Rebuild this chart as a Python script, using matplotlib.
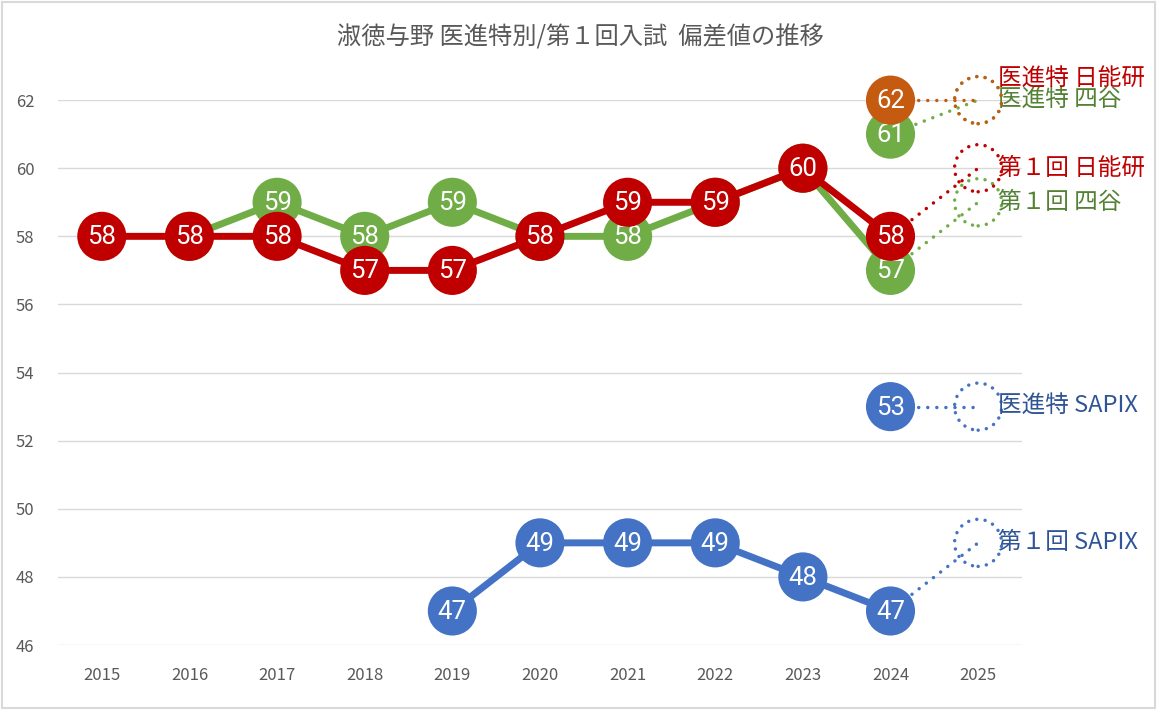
import numpy as np
import matplotlib

matplotlib.use("Agg")
import matplotlib.pyplot as plt
from matplotlib.patches import Rectangle

plt.rcParams["font.family"] = ["Noto Sans CJK JP", "DejaVu Sans"]

# data (2025 = forecast, drawn dotted)
years = [2015, 2016, 2017, 2018, 2019, 2020, 2021, 2022, 2023, 2024, 2025]
nan = np.nan
daiichi_nichinoken = [58, 58, 58, 57, 57, 58, 59, 59, 60, 58, 60]
daiichi_yotsuya = [nan, 58, 59, 58, 59, 58, 58, 59, 60, 57, 59]
daiichi_sapix = [nan, nan, nan, nan, 47, 49, 49, 49, 48, 47, 49]
ishin_nichinoken = [nan] * 9 + [62, 62]
ishin_yotsuya = [nan] * 9 + [61, 62]
ishin_sapix = [nan] * 9 + [53, 53]

title = "淑徳与野 医進特別/第１回入試  偏差値の推移"

RED = "#C00000"
GREEN = "#70AD47"
BLUE = "#4472C4"
ORANGE = "#C55A11"

# (name, values, marker colour, label colour, label offset in points)
series = [
    ("第１回 SAPIX", daiichi_sapix, BLUE, "#2F5597", 0),
    ("医進特 SAPIX", ishin_sapix, BLUE, "#2F5597", 0),
    ("第１回 四谷", daiichi_yotsuya, GREEN, "#548235", 0),
    ("第１回 日能研", daiichi_nichinoken, RED, RED, 0),
    ("医進特 四谷", ishin_yotsuya, GREEN, "#548235", 0),
    ("医進特 日能研", ishin_nichinoken, ORANGE, RED, 15),
]

fig = plt.figure(figsize=(11.6, 7.1), dpi=100)
ax = fig.add_axes([0.05, 0.0915, 0.831, 0.7675])

x = np.array(years, dtype=float)
for i, (name, vals, col, tcol, dy) in enumerate(series):
    z = 3 + i
    v = np.array(vals, dtype=float)
    xs, vs = x[:-1], v[:-1]
    ax.plot(xs, vs, color=col, lw=5, solid_capstyle="round", zorder=z, clip_on=False)
    ok = ~np.isnan(vs)
    ax.scatter(xs[ok], vs[ok], s=1250, color=col, edgecolors="none", zorder=z + 0.1, clip_on=False)
    for xx, vv in zip(xs[ok], vs[ok]):
        ax.text(xx, vv - 0.03, f"{vv:.0f}", color="white", fontsize=18.5,
                ha="center", va="center", zorder=z + 0.2, family=["Roboto", "DejaVu Sans"])
    # forecast segment
    ax.plot(x[-2:], v[-2:], color=col, lw=2.5, ls=(0, (0.01, 2.6)), dash_capstyle="round",
            zorder=z, clip_on=False)
    dc = ax.scatter([x[-1]], [v[-1]], s=1150, facecolors="none", edgecolors=col,
                    linewidths=2.5, linestyles=(0, (0.01, 2.4)), zorder=z + 0.1, clip_on=False)
    dc.set_capstyle("round")
    ax.annotate(name, (x[-1], v[-1]), xytext=(14, dy), textcoords="offset points",
                color=tcol, fontsize=17, ha="left", va="center", zorder=z + 0.2,
                annotation_clip=False)

ax.set_xlim(2014.5, 2025.5)
ax.set_ylim(46, 62)
ax.set_xticks(years)
ax.set_xticklabels([str(y) for y in years])
ax.set_yticks(range(46, 63, 2))
ax.tick_params(axis="both", length=0, labelsize=12, colors="#595959")
ax.tick_params(axis="x", pad=16)
ax.tick_params(axis="y", pad=17)
ax.grid(axis="y", color="#D9D9D9", lw=1)
ax.set_axisbelow(True)
for s in ax.spines.values():
    s.set_visible(False)

fig.text(0.5, 0.947, title, ha="center", va="center", fontsize=17.5, color="#595959")
fig.patches.append(Rectangle((0.002, 0.003), 0.994, 0.994, transform=fig.transFigure,
                             fill=False, edgecolor="#D9D9D9", lw=1.5))

fig.savefig("out.png", dpi=100)
